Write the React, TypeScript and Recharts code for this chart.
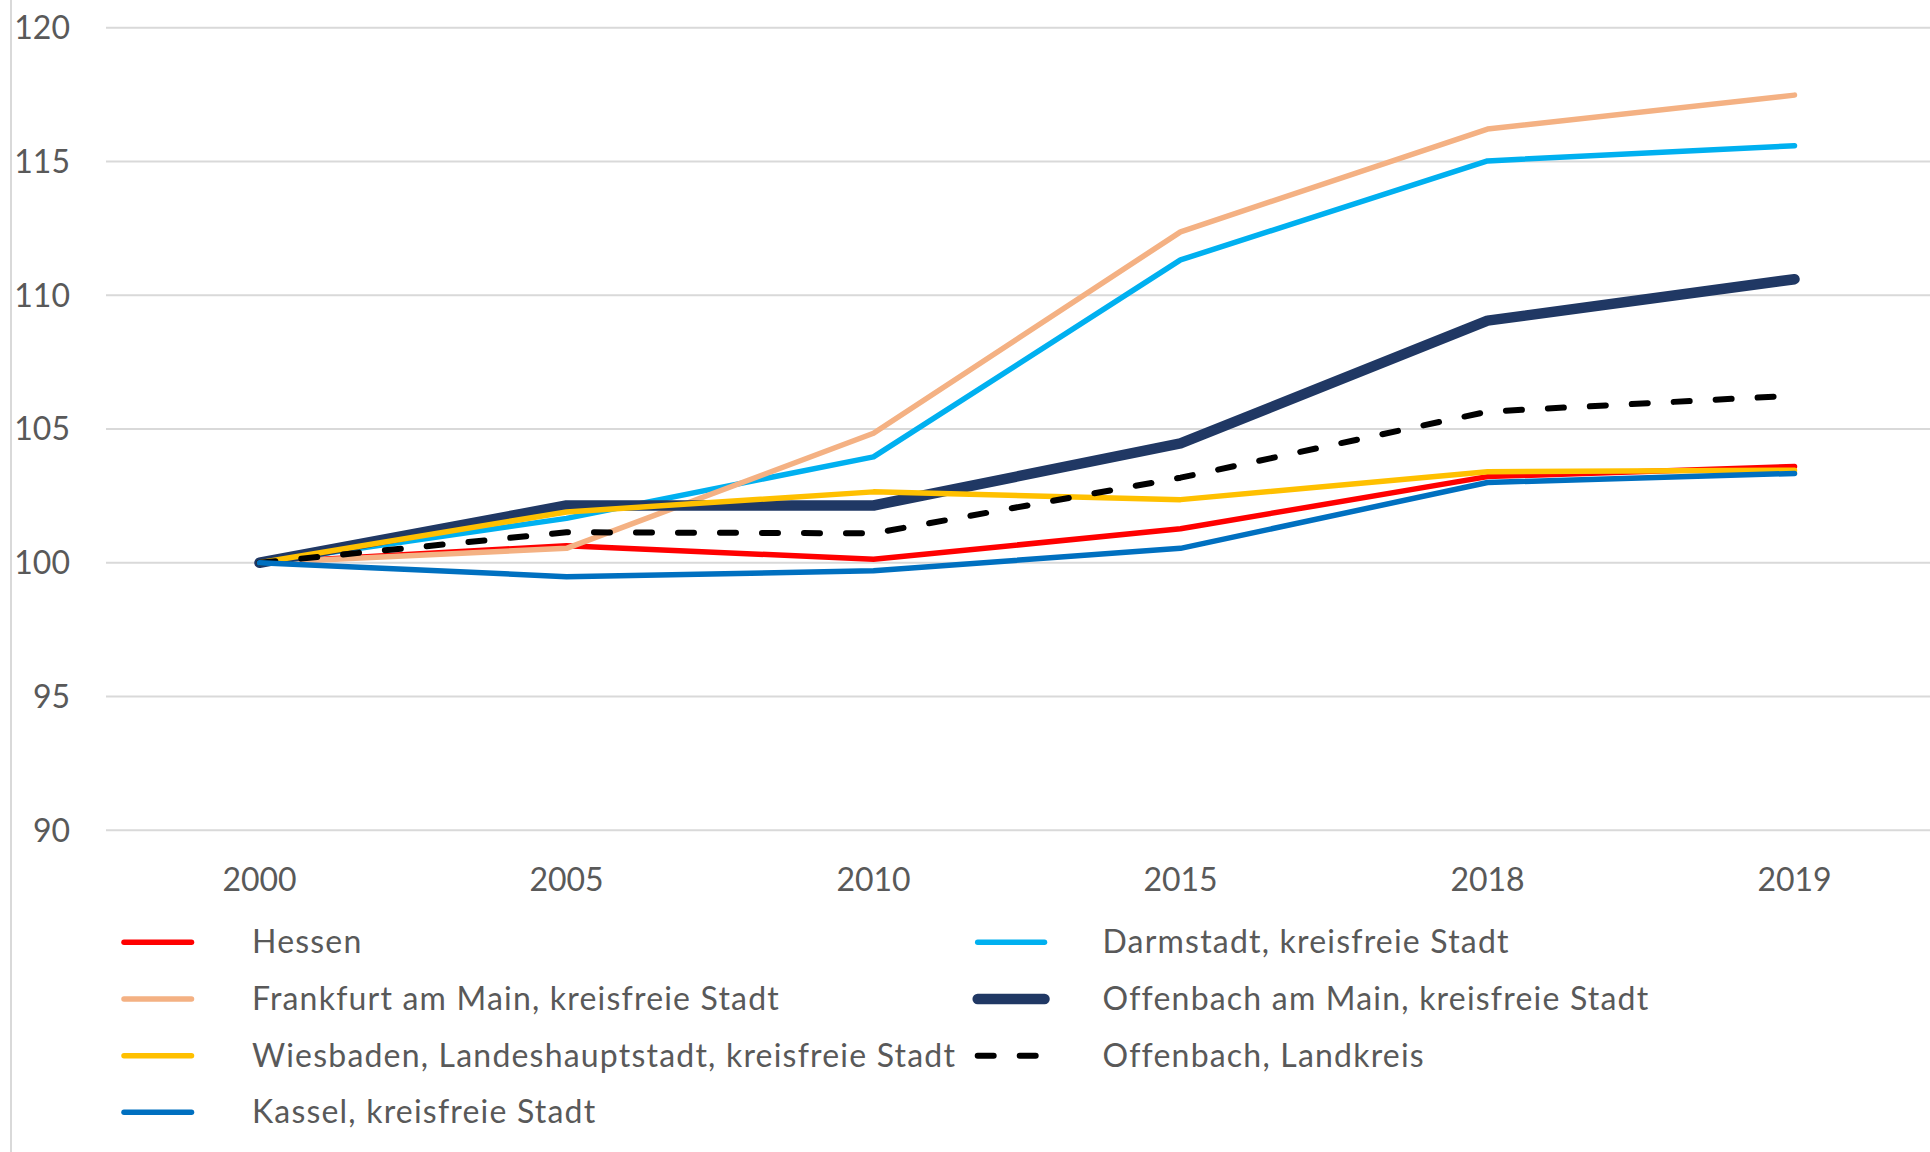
import React from 'react';
import { LineChart, Line, XAxis, YAxis, CartesianGrid } from 'recharts';

// ---- data ----
const years = ['2000', '2005', '2010', '2015', '2018', '2019'];
const hessen = [100, 100.64, 100.13, 101.27, 103.22, 103.6];
const darmstadt = [100, 101.66, 103.96, 111.32, 115.02, 115.59];
const frankfurt = [100, 100.54, 104.84, 112.37, 116.21, 117.48];
const offenbachStadt = [100, 102.14, 102.14, 104.46, 109.05, 110.6];
const wiesbaden = [100, 101.9, 102.65, 102.36, 103.4, 103.46];
const offenbachKreis = [100, 101.14, 101.1, 103.18, 105.65, 106.25];
const kassel = [100, 99.48, 99.7, 100.54, 103.0, 103.34];
const yTicks = [90, 95, 100, 105, 110, 115, 120];

const seriesKeys = ['hessen', 'darmstadt', 'frankfurt', 'offenbachStadt', 'wiesbaden', 'offenbachKreis', 'kassel'];
const seriesNames = [
  'Hessen',
  'Darmstadt, kreisfreie Stadt',
  'Frankfurt am Main, kreisfreie Stadt',
  'Offenbach am Main, kreisfreie Stadt',
  'Wiesbaden, Landeshauptstadt, kreisfreie Stadt',
  'Offenbach, Landkreis',
  'Kassel, kreisfreie Stadt',
];
const seriesValues = [hessen, darmstadt, frankfurt, offenbachStadt, wiesbaden, offenbachKreis, kassel];

// ---- styles ----
const seriesStyle: Record<string, { color: string; width: number; dash?: string }> = {
  hessen: { color: '#FF0000', width: 5.5 },
  darmstadt: { color: '#00B0F0', width: 5.5 },
  frankfurt: { color: '#F4B183', width: 5.5 },
  offenbachStadt: { color: '#203864', width: 10.5 },
  wiesbaden: { color: '#FFC000', width: 5.5 },
  offenbachKreis: { color: '#000000', width: 6, dash: '16 26' },
  kassel: { color: '#0070C0', width: 5.5 },
};

const data = years.map((y, i) => {
  const row: Record<string, any> = { year: y };
  seriesKeys.forEach((k, j) => {
    row[k] = seriesValues[j][i];
  });
  return row;
});

const FONT = 'Lato, "Open Sans", sans-serif';
const TEXT_COLOR = '#595959';
const FS = 32;

const legendCols = [{ lineX: 124, lineX2: 191.5, textX: 252 }, { lineX: 977.7, lineX2: 1044.5, textX: 1102.5 }];
const legendRows = [942.3, 999, 1055.7, 1112.3];

function LegendOverlay() {
  return (
    <svg width={1930} height={1152} style={{ position: 'absolute', left: 0, top: 0, pointerEvents: 'none' }}>
      {seriesKeys.map((k, i) => {
        const col = legendCols[i % 2];
        const y = legendRows[Math.floor(i / 2)];
        const st = seriesStyle[k];
        return (
          <g key={k}>
            <line
              x1={col.lineX}
              x2={col.lineX2}
              y1={y}
              y2={y}
              stroke={st.color}
              strokeWidth={st.width}
              strokeLinecap="round"
              strokeDasharray={st.dash}
            />
            <text
              x={col.textX}
              y={y + 11}
              fontFamily={FONT}
              fontSize={FS}
              fill={TEXT_COLOR}
              style={{ letterSpacing: '1.2px' }}
            >
              {seriesNames[i]}
            </text>
          </g>
        );
      })}
    </svg>
  );
}

export default function App() {
  return (
    <div style={{ position: 'absolute', left: 0, top: 0, width: 1930, height: 1152, background: '#fff', overflow: 'hidden' }}>
      <div style={{ position: 'absolute', left: 10, top: 0, width: 2, height: 1152, background: '#D9D9D9' }} />
      <LineChart
        width={1930}
        height={1152}
        data={data}
        margin={{ top: 27.7, right: 0, bottom: 261.7, left: 0 }}
        style={{ position: 'absolute', left: 0, top: 0 }}
      >
        <CartesianGrid vertical={false} stroke="#D9D9D9" strokeWidth={2} />
        <XAxis
          dataKey="year"
          axisLine={false}
          tickLine={false}
          tickSize={0}
          tickMargin={37.5}
          height={60}
          interval={0}
          padding={{ left: 153.5, right: 135.5 }}
          tick={{ fill: TEXT_COLOR, fontSize: FS, fontFamily: FONT }}
        />
        <YAxis
          domain={[90, 120]}
          ticks={yTicks}
          axisLine={false}
          tickLine={false}
          tickSize={0}
          tickMargin={36}
          width={106}
          interval={0}
          tick={{ fill: TEXT_COLOR, fontSize: FS, fontFamily: FONT }}
        />
        {seriesKeys.map((k) => {
          const st = seriesStyle[k];
          return (
            <Line
              key={k}
              type="linear"
              dataKey={k}
              name={k}
              stroke={st.color}
              strokeWidth={st.width}
              strokeDasharray={st.dash}
              strokeLinecap="round"
              strokeLinejoin="round"
              dot={false}
              activeDot={false}
              isAnimationActive={false}
            />
          );
        })}
      </LineChart>
      <LegendOverlay />
    </div>
  );
}
